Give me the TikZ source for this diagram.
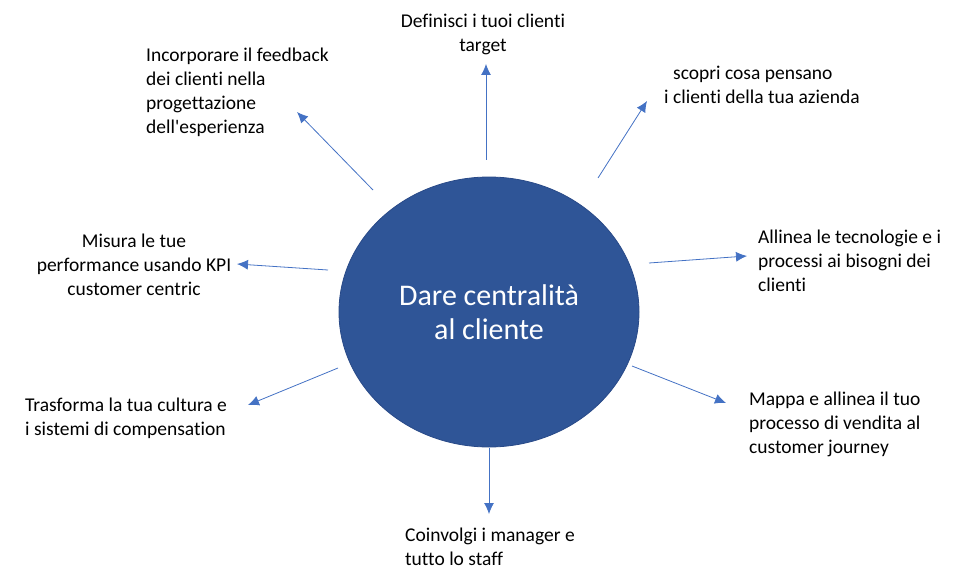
\documentclass[tikz,border=0pt]{standalone}
\usepackage{fontspec}
\setmainfont{Carlito}[Ligatures={NoCommon}]
\usetikzlibrary{shapes.geometric,arrows.meta}

\begin{document}
\begin{tikzpicture}[x=1pt,y=-1pt,
  lbl/.style={inner sep=0pt,font=\fontsize{19.5}{24}\selectfont},
  conn/.style={draw=linecolor,line width=0.8pt,-{Latex[length=11pt,width=10pt]}}]
\definecolor{linecolor}{rgb}{0.267, 0.447, 0.769}
\definecolor{hubcolor}{rgb}{0.184, 0.333, 0.592}
\definecolor{hubline}{rgb}{0.161, 0.290, 0.533}
\useasboundingbox (0,0) rectangle (972,583);
% centro
\node[ellipse,fill=hubcolor,draw=hubline,line width=0.8pt,minimum width=300pt,minimum height=270pt,
  text=white,align=center,font=\fontsize{30}{34}\selectfont] (hub) at (489,312) {Dare centralità\\al cliente};
% testi
\node[lbl,anchor=north,align=center] (target) at (483,10.2) {\strut Definisci i tuoi clienti\\target};
\node[lbl,anchor=north west,align=left] (pensano) at (664,62.2) {\strut\hspace*{9pt}scopri cosa pensano\\i clienti della tua azienda};
\node[lbl,anchor=north west,align=left] (tecnologie) at (758,226.2) {\strut Allinea le tecnologie e i\\processi ai bisogni dei\\clienti};
\node[lbl,anchor=north west,align=left] (vendita) at (749,388.2) {\strut Mappa e allinea il tuo\\processo di vendita al\\customer journey};
\node[lbl,anchor=north west,align=left] (staff) at (405,524.2) {\strut Coinvolgi i manager e\\tutto lo staff};
\node[lbl,anchor=north west,align=left] (cultura) at (25,394.2) {\strut Trasforma la tua cultura e\\i sistemi di compensation};
\node[lbl,anchor=north,align=center] (kpi) at (134,230.2) {\strut Misura le tue\\performance usando KPI\\customer centric};
\node[lbl,anchor=north west,align=left] (feedback) at (146,44.2) {\strut Incorporare il feedback\\dei clienti nella\\progettazione\\dell\textquotesingle esperienza};
% frecce
\coordinate (a1) at (486,160); \coordinate (b1) at (486,64);
\coordinate (a2) at (598,178); \coordinate (b2) at (647,101);
\coordinate (a3) at (649,263); \coordinate (b3) at (747,256);
\coordinate (a4) at (632,366); \coordinate (b4) at (726,403);
\coordinate (a5) at (489,448); \coordinate (b5) at (489,514);
\coordinate (a6) at (338,368); \coordinate (b6) at (248,405);
\coordinate (a7) at (328,270); \coordinate (b7) at (237,264);
\coordinate (a8) at (373,190); \coordinate (b8) at (297,112);
\foreach \i in {1,...,8}
  \draw[conn] (a\i) -- (b\i);
\end{tikzpicture}
\end{document}
